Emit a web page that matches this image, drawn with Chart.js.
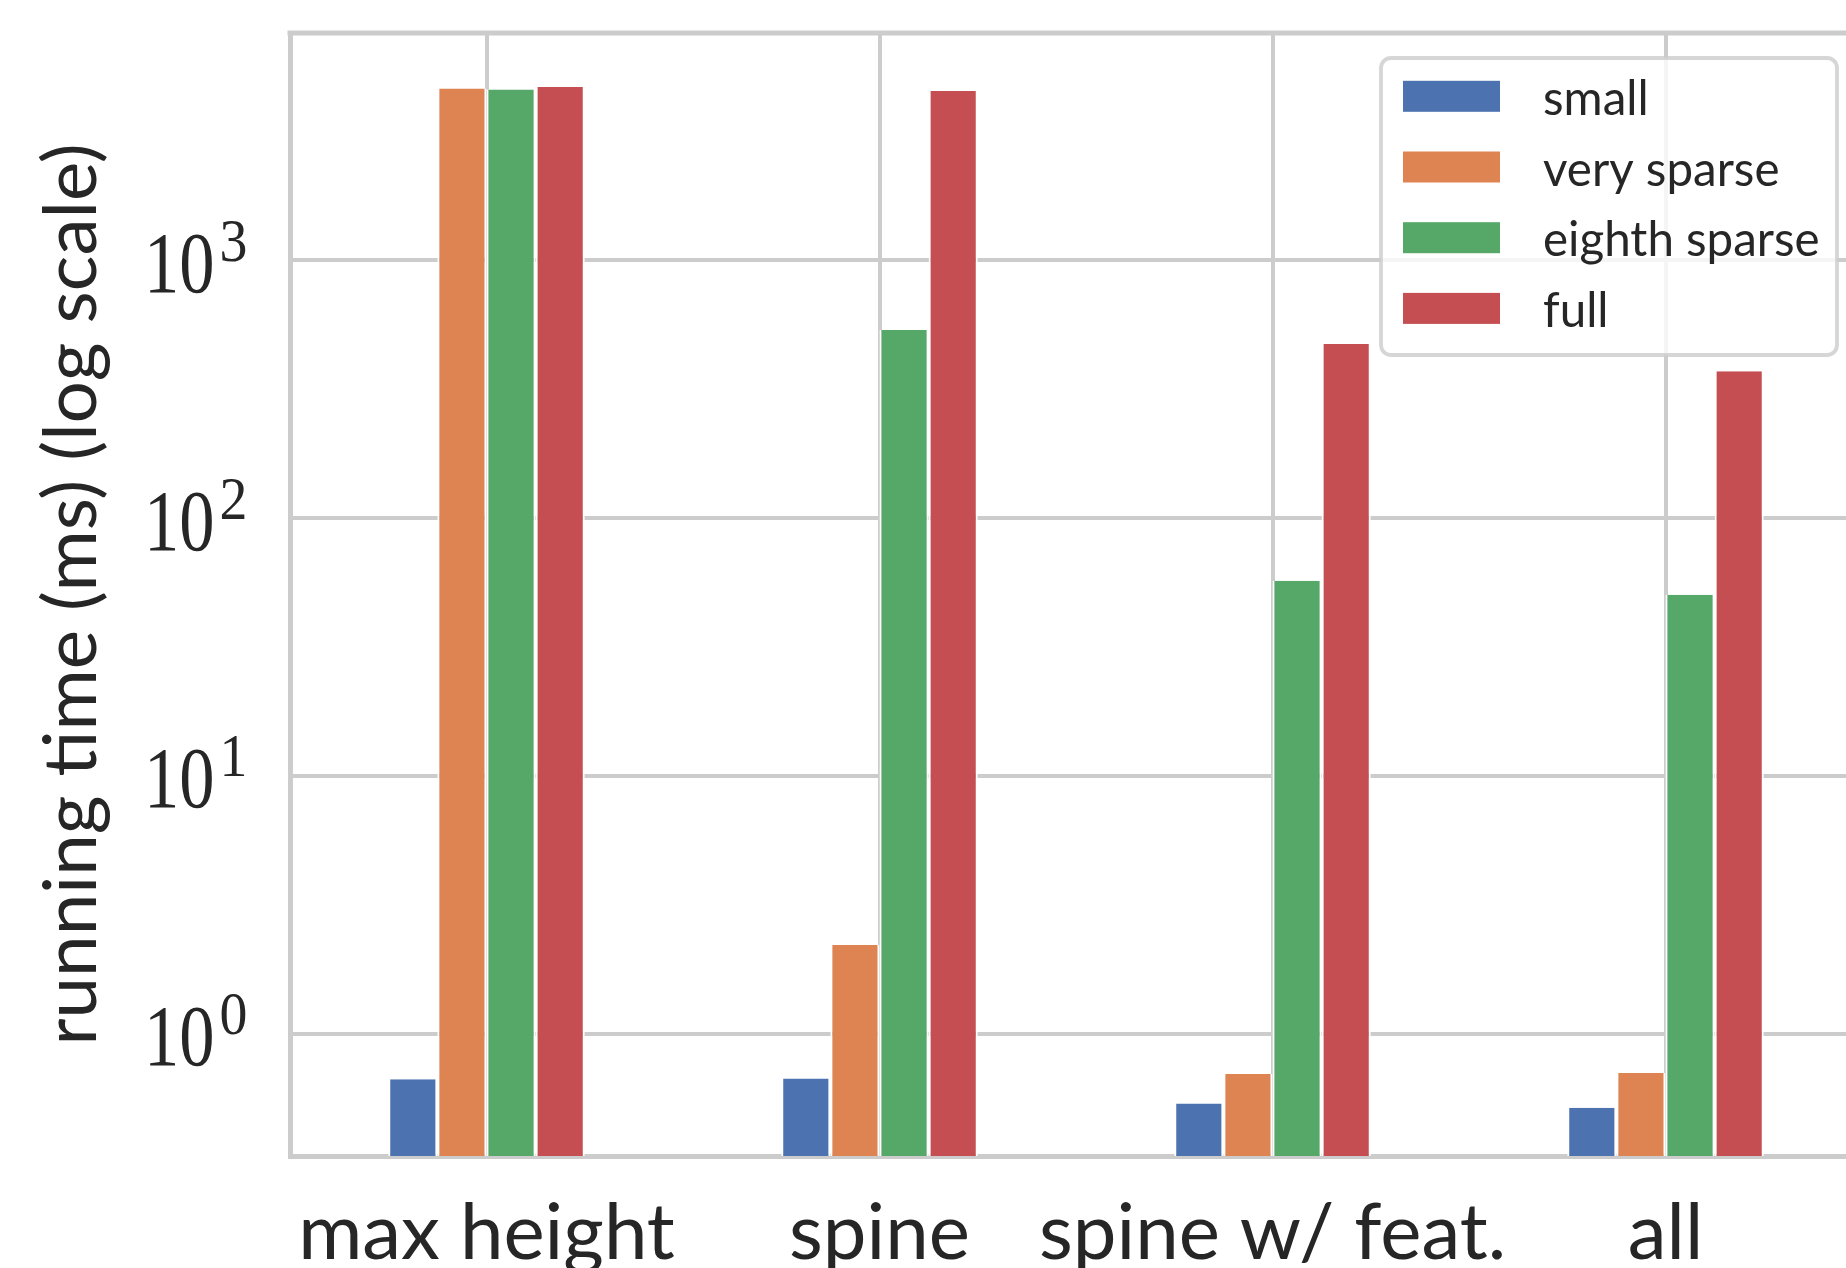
<!DOCTYPE html>
<html><head><meta charset="utf-8">
<script src="https://cdn.jsdelivr.net/npm/chart.js@4"></script>
<style>
html,body{margin:0;padding:0;overflow:hidden;background:#fff;width:1846px;height:1268px}
#wrap{width:1870px;height:1268px;position:relative}
canvas{display:block}
</style></head>
<body><div id="wrap"><canvas id="c" width="1870" height="1268" style="width:1870px;height:1268px"></canvas></div>
<script>
const categories = ['max height', 'spine', 'spine w/ feat.', 'all'];
const seriesNames = ['small', 'very sparse', 'eighth sparse', 'full'];
const small = [0.667, 0.672, 0.537, 0.517];
const verySparse = [4634, 2.21, 0.698, 0.705];
const eighthSparse = [4600, 537, 57.2, 50.5];
const full = [4700, 4535, 473, 371];
const seriesColors = ['#4C72B0', '#DD8452', '#55A868', '#C44E52'];
const yTickValues = [1, 10, 100, 1000];
const yTickBase = '10';
const yTickExponents = ['0', '1', '2', '3'];
const yMin = 0.336, yMax = 7610;
const yTitle = 'running time (ms) (log scale)';

const seriesValues = [small, verySparse, eighthSparse, full];
const GRID = '#cccccc';
const TEXT = '#262626';

const topSpine = {
  id: 'topSpine',
  beforeDatasetsDraw(chart) {
    const {ctx, chartArea: a} = chart;
    ctx.save();
    ctx.strokeStyle = GRID;
    ctx.lineWidth = 5;
    ctx.beginPath();
    ctx.moveTo(a.left - 2.5, a.top);
    ctx.lineTo(a.right + 10, a.top);
    ctx.stroke();
    ctx.restore();
  }
};

// y tick labels as 10 with a raised exponent, placed through the y scale
const powerTicks = {
  id: 'powerTicks',
  afterDraw(chart) {
    const {ctx} = chart;
    const ys = chart.scales.y;
    ctx.save();
    ctx.fillStyle = TEXT;
    ctx.textAlign = 'right';
    ctx.textBaseline = 'alphabetic';
    yTickValues.forEach((v, k) => {
      const py = ys.getPixelForValue(v);
      ctx.save();
      ctx.translate(214.5, py + 31.5);
      ctx.scale(0.82, 1);
      ctx.font = '86px "Liberation Serif"';
      ctx.fillText(yTickBase, 0, 0);
      ctx.restore();
      ctx.save();
      ctx.translate(247.5, py + 0.5);
      ctx.scale(0.9, 1);
      ctx.font = '62px "Liberation Serif"';
      ctx.fillText(yTickExponents[k], 0, 0);
      ctx.restore();
    });
    ctx.restore();
  }
};

const boxLegend = {
  id: 'boxLegend',
  afterDraw(chart) {
    const ctx = chart.ctx;
    const x0 = 1381, y0 = 58, w = 456, h = 297, r = 10;
    ctx.save();
    ctx.beginPath();
    ctx.roundRect(x0, y0, w, h, r);
    ctx.fillStyle = 'rgba(255,255,255,0.8)';
    ctx.fill();
    ctx.lineWidth = 3.8;
    ctx.strokeStyle = 'rgba(204,204,204,0.8)';
    ctx.stroke();
    ctx.font = '47.5px Lato';
    ctx.textAlign = 'left';
    ctx.textBaseline = 'alphabetic';
    chart.data.datasets.forEach((ds, i) => {
      const cy = 96.3 + i * 70.7;
      ctx.fillStyle = ds.backgroundColor;
      ctx.fillRect(1403, cy - 15.5, 97, 31);
      ctx.fillStyle = TEXT;
      ctx.fillText(ds.label, 1543, cy + 18.5);
    });
    ctx.restore();
  }
};

new Chart(document.getElementById('c'), {
  type: 'bar',
  data: {
    labels: categories,
    datasets: seriesNames.map((n, i) => ({
      label: n,
      data: seriesValues[i],
      backgroundColor: seriesColors[i],
      borderColor: '#ffffff',
      borderWidth: {left: 2, right: 2, top: 0, bottom: 0},
      borderSkipped: false,
      categoryPercentage: 0.5,
      barPercentage: 1.0
    }))
  },
  options: {
    responsive: false,
    devicePixelRatio: 1,
    animation: false,
    layout: {padding: {left: 0, right: 8, top: 33, bottom: 0}},
    plugins: {legend: {display: false}, tooltip: {enabled: false}},
    scales: {
      x: {
        type: 'category',
        offset: true,
        grid: {offset: false, color: GRID, lineWidth: 4, drawTicks: false},
        border: {display: true, color: GRID, width: 5},
        ticks: {font: {family: 'Lato', size: 78}, color: TEXT, padding: 31, maxRotation: 0, autoSkip: false},
        afterFit(s) { s.height = 112; s.paddingLeft = 0; s.paddingRight = 0; }
      },
      y: {
        type: 'logarithmic',
        bounds: 'data',
        min: yMin,
        max: yMax,
        grid: {color: GRID, lineWidth: 4, drawTicks: false},
        border: {display: true, color: GRID, width: 5},
        afterBuildTicks(s) { s.ticks = yTickValues.map(v => ({value: v})); s.min = yMin; s.max = yMax; },
        ticks: {display: false},
        title: {display: true, text: yTitle, font: {family: 'Lato', size: 74.5}, color: TEXT, padding: {top: 27, bottom: 0}},
        afterFit(s) { s.width = 290; s.paddingTop = 0; s.paddingBottom = 0; }
      }
    }
  },
  plugins: [topSpine, powerTicks, boxLegend]
});
</script></body></html>
